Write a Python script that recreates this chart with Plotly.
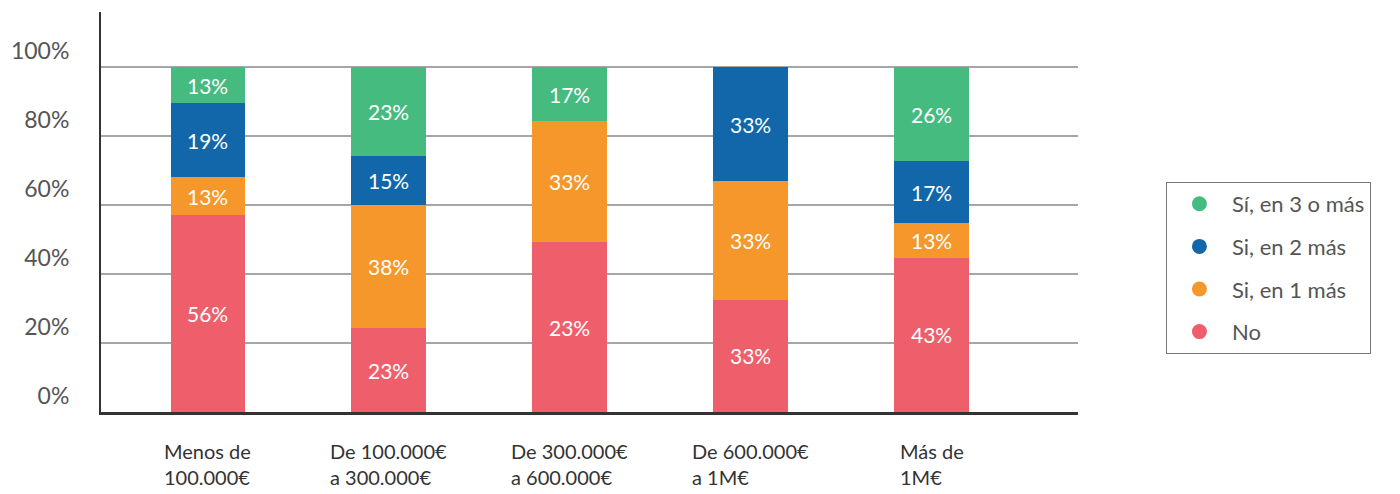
import plotly.graph_objects as go

# income bands (x categories)
categories = ["Menos de<br>100.000€", "De 100.000€<br>a 300.000€", "De 300.000€<br>a 600.000€",
              "De 600.000€<br>a 1M€", "Más de<br>1M€"]

# segment heights (% of each bar)
no_vals = [57.1, 24.3, 49.3, 32.5, 44.7]
si1_vals = [11.0, 35.7, 35.0, 34.5, 10.1]
si2_vals = [21.5, 14.2, 0, 33.0, 18.0]
si3_vals = [10.4, 25.8, 15.7, 0, 27.2]

# labels as printed on the bars
no_labels = ["56%", "23%", "23%", "33%", "43%"]
si1_labels = ["13%", "38%", "33%", "33%", "13%"]
si2_labels = ["19%", "15%", "", "33%", "17%"]
si3_labels = ["13%", "23%", "17%", "", "26%"]

y_ticks = [0, 20, 40, 60, 80, 100]
y_tick_labels = ["0%", "20%", "40%", "60%", "80%", "100%"]

FONT = "Lato"
series = [
    ("No", no_vals, no_labels, "#EF5F6B"),
    ("Si, en 1 más", si1_vals, si1_labels, "#F5972A"),
    ("Si, en 2 más", si2_vals, si2_labels, "#1267AA"),
    ("Sí, en 3 o más", si3_vals, si3_labels, "#46BB80"),
]

x_idx = list(range(len(categories)))

fig = go.Figure()

for name, vals, labels, color in series:
    fig.add_trace(go.Bar(
        x=x_idx,
        y=vals,
        name=name,
        text=labels,
        textposition="inside",
        insidetextanchor="middle",
        textangle=0,
        textfont=dict(color="white", size=21, family=FONT),
        marker=dict(color=color, line=dict(width=0)),
        showlegend=False,
        hovertemplate="<b>%{x}</b><br>" + name + ": %{text}<extra></extra>",
    ))

# legend entries with round markers (top to bottom)
for name, vals, labels, color in reversed(series):
    fig.add_trace(go.Scatter(
        x=[None], y=[None],
        mode="markers",
        name=name,
        legendgroup=name,
        marker=dict(color=color, size=15, symbol="circle"),
    ))

# x labels: left aligned lines, centred under each bar
for i, cat in enumerate(categories):
    fig.add_annotation(
        x=i, y=-0.062, xref="x", yref="paper",
        text=cat, showarrow=False,
        xanchor="center", yanchor="top", align="left",
        font=dict(size=20, color="#333333", family=FONT),
    )

# the page body adds an 8px margin, so the figure is 8px smaller each way
fig.update_layout(
    width=1392,
    height=486,
    barmode="stack",
    bargap=0.59,
    plot_bgcolor="white",
    paper_bgcolor="white",
    margin=dict(l=93, r=322, t=4, b=82),
    font=dict(family=FONT, color="#555555"),
    legend=dict(
        x=1.09, y=0.575, xanchor="left", yanchor="top",
        traceorder="grouped", tracegroupgap=11,
        itemwidth=55,
        bordercolor="#777777", borderwidth=1,
        font=dict(size=22, color="#555555", family=FONT),
    ),
)

fig.update_xaxes(
    range=[-0.589, 4.809],
    showticklabels=False,
    showgrid=False,
    showline=True, linecolor="#333333", linewidth=3,
    zeroline=False,
    automargin=False,
)

fig.update_yaxes(
    range=[0, 116],
    tickvals=y_ticks,
    ticktext=y_tick_labels,
    ticklabelposition="outside top",
    ticklabelstandoff=25,
    ticks="",
    tickfont=dict(size=23, color="#555555", family=FONT),
    showgrid=True, gridcolor="#A6A6A6", gridwidth=2,
    showline=True, linecolor="#333333", linewidth=2,
    zeroline=False,
    automargin=False,
)

fig.write_html("out.html")
